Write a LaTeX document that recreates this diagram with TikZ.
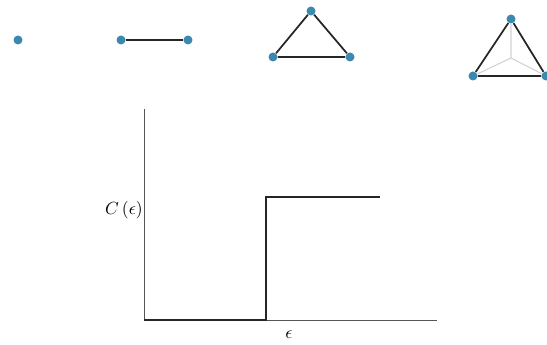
\documentclass[tikz,border=0pt]{standalone}
\usepackage{xcolor}
\usepackage{tikz}
\usetikzlibrary{positioning}
\definecolor{nodo}{HTML}{3D88AE}
\definecolor{eje}{HTML}{555555}

\begin{document}
\begin{tikzpicture}[
  punto/.style={circle, fill=nodo, inner sep=0pt, minimum size=0.18cm},
  arista/.style={line width=1pt, black!85},
  oculta/.style={line width=0.6pt, gray!35},
  ejes/.style={line width=0.55pt, eje},
  escalon/.style={line width=1.1pt, black!85}]
  \useasboundingbox (0,0) rectangle (10.94,6.9);
  % simplices
  \node[punto] (p0) at (0.36,6.10) {};
  \node[punto] (a1) at (2.42,6.10) {};
  \node[punto] (a2) at (3.76,6.10) {};
  \draw[arista] (a1) -- (a2);
  \node[punto] (t1) at (6.22,6.68) {};
  \node[punto] (t2) at (5.46,5.76) {};
  \node[punto] (t3) at (7.00,5.76) {};
  \draw[arista] (t1) -- (t2) -- (t3) -- (t1);
  \coordinate (tc) at (10.22,5.74);
  \node[punto] (v1) at (10.22,6.52) {};
  \node[punto] (v2) at (9.46,5.38) {};
  \node[punto] (v3) at (10.92,5.38) {};
  \draw[oculta] (tc) -- (v1) (tc) -- (v2) (tc) -- (v3);
  \draw[arista] (v1) -- (v2) -- (v3) -- (v1);
  % curva C(eps)
  \coordinate (origen) at (2.88,0.50);
  \coordinate (ytope) at (2.88,4.72);
  \coordinate (xfin) at (8.74,0.50);
  \coordinate (s1) at (5.32,0.50);
  \coordinate (s2) at (5.32,2.96);
  \coordinate (s3) at (7.60,2.96);
  \draw[ejes] (ytope) -- (origen) -- (xfin);
  \draw[escalon] (origen) -- (s1) -- (s2) -- (s3);
  \node (ceps) at (2.48,2.70) {$C\,(\epsilon)$};
  \node (eps) at (5.78,0.20) {$\epsilon$};
\end{tikzpicture}
\end{document}
